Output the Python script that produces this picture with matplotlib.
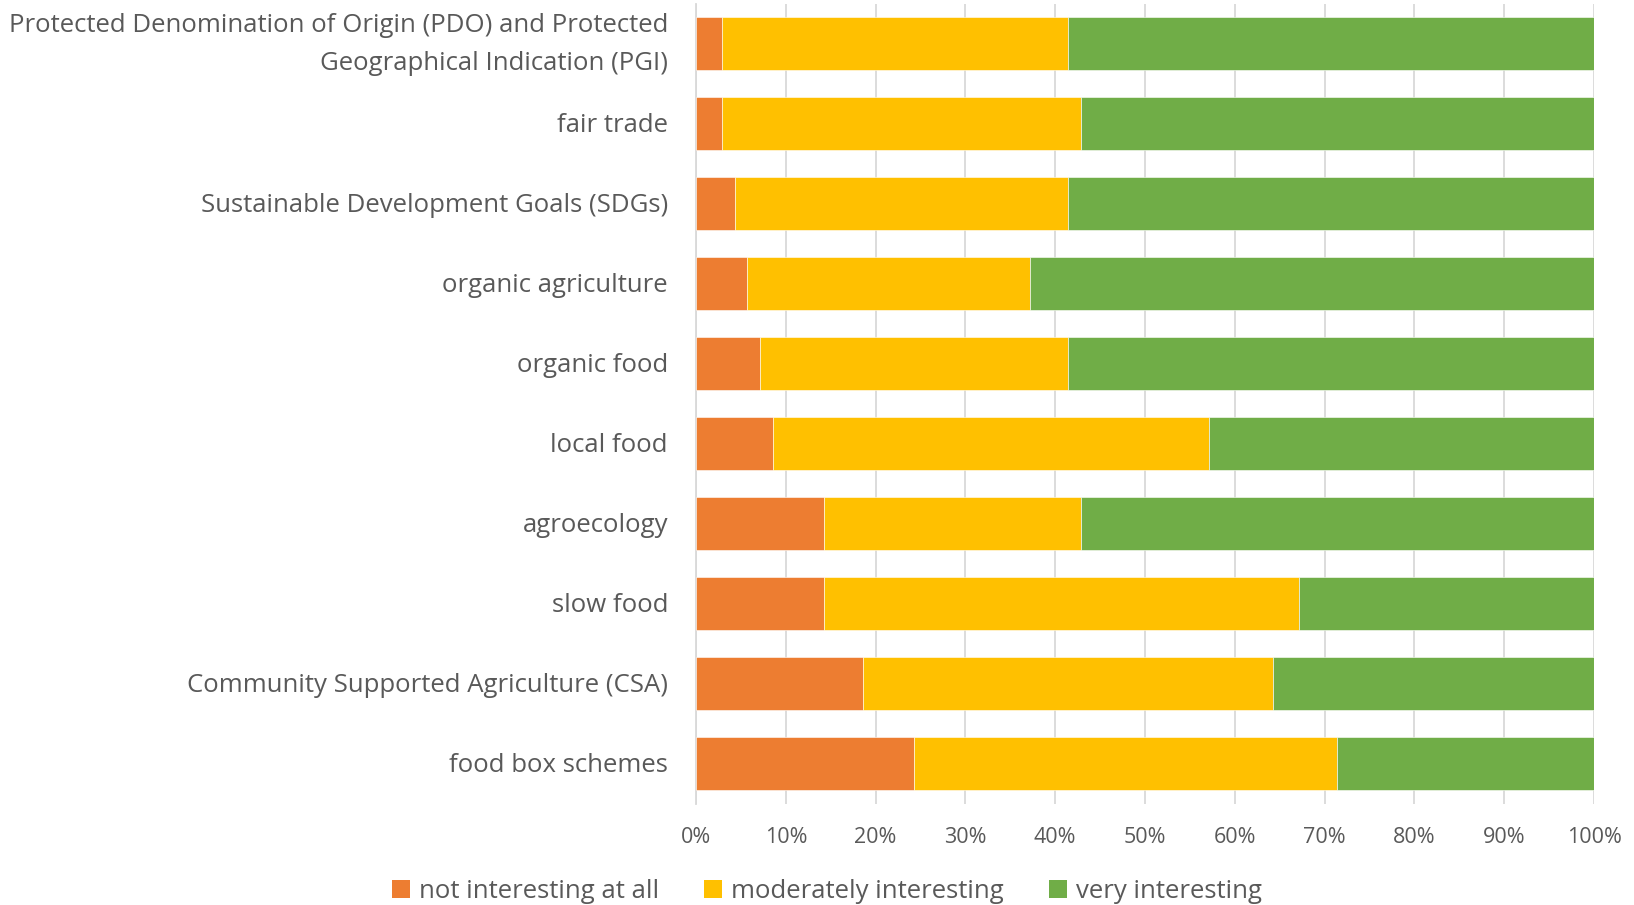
import matplotlib
matplotlib.use("Agg")
import matplotlib.pyplot as plt
from matplotlib.patches import Patch

plt.rcParams['font.family'] = ['Open Sans', 'DejaVu Sans']

categories = [
    "Protected Denomination of Origin (PDO) and Protected\nGeographical Indication (PGI)",
    "fair trade",
    "Sustainable Development Goals (SDGs)",
    "organic agriculture",
    "organic food",
    "local food",
    "agroecology",
    "slow food",
    "Community Supported Agriculture (CSA)",
    "food box schemes",
]
not_interesting = [2.86, 2.86, 4.29, 5.71, 7.14, 8.57, 14.29, 14.29, 18.57, 24.29]
moderately = [38.57, 40.00, 37.14, 31.43, 34.29, 48.57, 28.57, 52.86, 45.71, 47.14]
very = [58.57, 57.14, 58.57, 62.86, 58.57, 42.86, 57.14, 32.86, 35.71, 28.57]
series_names = ["not interesting at all", "moderately interesting", "very interesting"]
colors = ["#ED7D31", "#FFC000", "#70AD47"]
xticks = [0, 10, 20, 30, 40, 50, 60, 70, 80, 90, 100]
xticklabels = [f"{t}%" for t in xticks]

W, H = 1634, 905
fig = plt.figure(figsize=(W / 100, H / 100), dpi=100)
ax = fig.add_axes([696 / W, 1 - 803.5 / H, 898 / W, 800 / H])

y = list(range(len(categories)))
left = [0.0] * len(categories)
for vals, c in zip([not_interesting, moderately, very], colors):
    ax.barh(y, vals, left=left, height=0.66, color=c, edgecolor="white", linewidth=0.4, zorder=3)
    left = [l + v for l, v in zip(left, vals)]

ax.set_xlim(0, 100)
ax.set_ylim(len(categories) - 0.5, -0.5)
ax.set_yticks(y)
ax.set_yticklabels([])
for i, lab in zip(y, categories):
    dy = -1.0 if "\n" in lab else -1.6
    ax.annotate(lab, xy=(0, i), xycoords=ax.get_yaxis_transform(),
                xytext=(-28, dy), textcoords="offset pixels",
                ha="right", va="center", fontsize=18.5, color="#595959",
                linespacing=1.68, multialignment="right")
ax.set_xticks(xticks)
ax.set_xticklabels(xticklabels, fontsize=15.5, color="#595959")
ax.tick_params(axis="y", length=0)
ax.tick_params(axis="x", length=0, pad=17)
ax.grid(axis="x", color="#D9D9D9", linewidth=1.3, zorder=0)
for s in ["top", "right", "bottom"]:
    ax.spines[s].set_visible(False)
ax.spines["left"].set_color("#D9D9D9")
ax.spines["left"].set_linewidth(1.3)

handles = [Patch(facecolor=c, edgecolor="none") for c in colors]
fig.legend(handles, series_names, loc="center", bbox_to_anchor=(827 / W, 1 - 891 / H),
           ncol=3, frameon=False, fontsize=18.5, labelcolor="#595959",
           handlelength=0.7, handleheight=0.7, handletextpad=0.35, columnspacing=1.75)

fig.savefig("out.png", dpi=100)
